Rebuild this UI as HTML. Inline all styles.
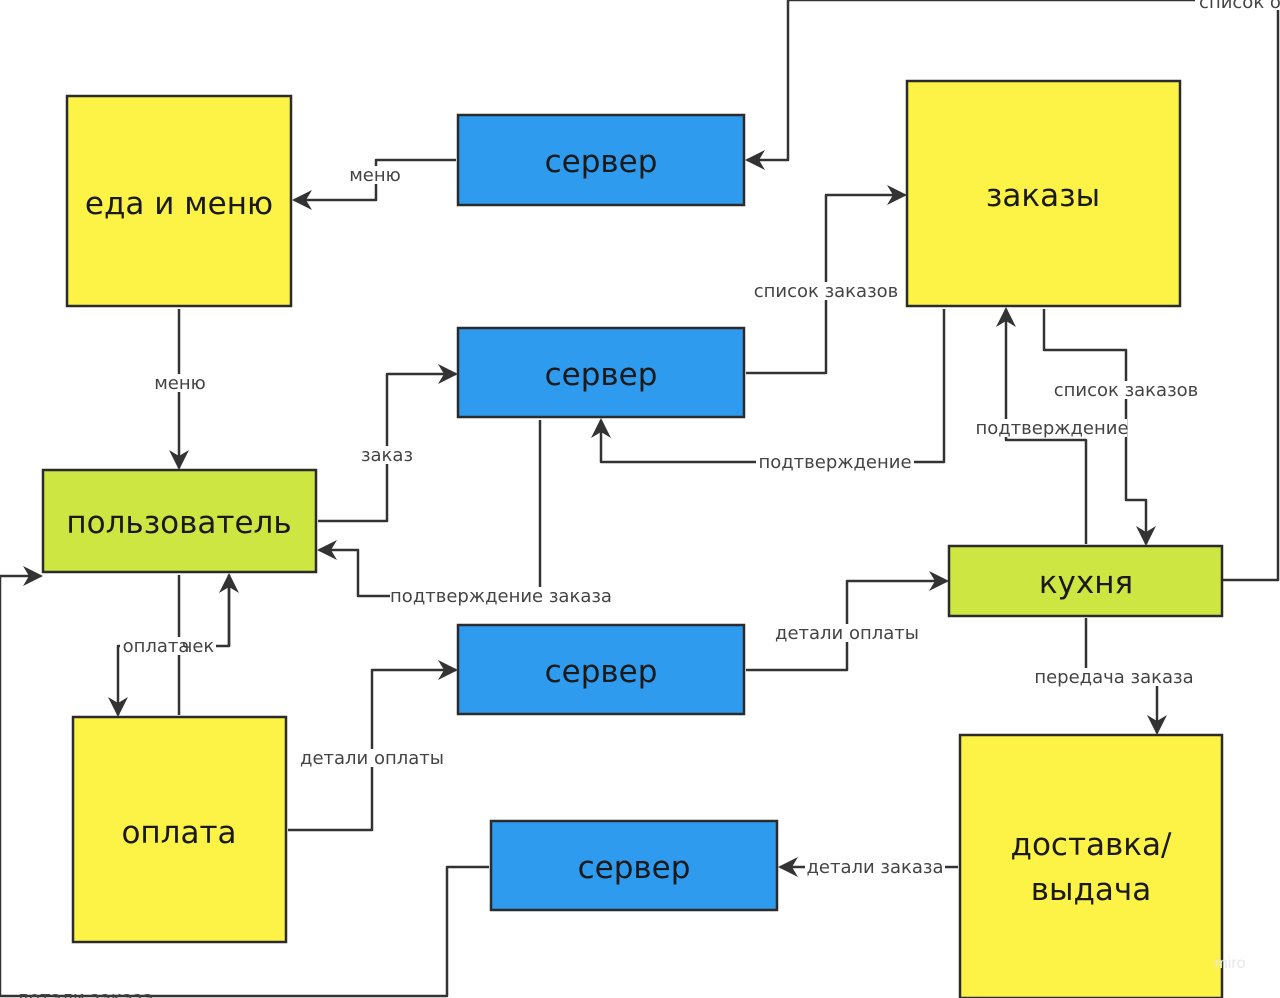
<!DOCTYPE html>
<html><head><meta charset="utf-8"><style>
body{margin:0;background:#fff;}
svg{display:block;font-family:"Liberation Sans","DejaVu Sans",sans-serif;}
.b{stroke:#2b2b2b;stroke-width:2.5;}
.c{fill:none;stroke:#333;stroke-width:2.5;stroke-linejoin:round;}
.t{font-family:"DejaVu Sans","Liberation Sans",sans-serif;fill:#1a1a1a;}
.l{font-size:18px;fill:#444;font-family:"DejaVu Sans","Liberation Sans",sans-serif;}
.bg{fill:#fff;}
</style></head><body>
<svg width="1280" height="998" viewBox="0 0 1280 998">
<defs>
<marker id="h" viewBox="0 0 10 10" markerWidth="20" markerHeight="20" refX="9" refY="5" orient="auto" markerUnits="userSpaceOnUse"><path d="M0,0 L10,5 L0,10 L3,5 Z" fill="#333"/></marker></defs>

<path class="c" d="M456,160 H376 V200 H294" marker-end="url(#h)"/>
<path class="c" d="M1278,0 H788 V160 H747" marker-end="url(#h)"/>
<path class="c" d="M1222,580 H1278 V0"/>
<path class="c" d="M179,309 V468" marker-end="url(#h)"/>
<path class="c" d="M318,521 H387 V374 H456" marker-end="url(#h)"/>
<path class="c" d="M540,420 V596 H358 V550 H319" marker-end="url(#h)"/>
<path class="c" d="M746,373 H826 V195 H905" marker-end="url(#h)"/>
<path class="c" d="M944,309 V462 H601 V420" marker-end="url(#h)"/>
<path class="c" d="M1044,309 V350 H1126 V500 H1146 V544" marker-end="url(#h)"/>
<path class="c" d="M1086,544 V440 H1006 V309" marker-end="url(#h)"/>
<path class="c" d="M179,575 V715"/>
<path class="c" d="M229,575 V646 H118 V715" marker-end="url(#h)"/>
<path class="c" d="M229,646 V575" marker-end="url(#h)"/>
<path class="c" d="M288,830 H372 V670 H456" marker-end="url(#h)"/>
<path class="c" d="M746,670 H847 V581 H947" marker-end="url(#h)"/>
<path class="c" d="M1086,618 V677 H1157 V733" marker-end="url(#h)"/>
<path class="c" d="M958,867 H780" marker-end="url(#h)"/>
<path class="c" d="M489,867 H447 V996 H0 V576 H41" marker-end="url(#h)"/>

<rect class="b" x="67" y="96" width="224" height="210" fill="#fdf346"/>
<rect class="b" x="458" y="115" width="286" height="90" fill="#2e9bef"/>
<rect class="b" x="907" y="81" width="273" height="225" fill="#fdf346"/>
<rect class="b" x="458" y="328" width="286" height="89" fill="#2e9bef"/>
<rect class="b" x="43" y="470" width="273" height="102" fill="#cde642"/>
<rect class="b" x="949" y="546" width="273" height="70" fill="#cde642"/>
<rect class="b" x="458" y="625" width="286" height="89" fill="#2e9bef"/>
<rect class="b" x="73" y="717" width="213" height="225" fill="#fdf346"/>
<rect class="b" x="491" y="821" width="286" height="89" fill="#2e9bef"/>
<rect class="b" x="960" y="735" width="262" height="263" fill="#fdf346"/>

<g class="t" font-size="31" text-anchor="middle">
<text x="179" y="214">еда и меню</text>
<text x="601" y="172">сервер</text>
<text x="1043" y="206">заказы</text>
<text x="601" y="385">сервер</text>
<text x="179" y="533">пользователь</text>
<text x="1086" y="593">кухня</text>
<text x="601" y="682">сервер</text>
<text x="179" y="843">оплата</text>
<text x="634" y="878">сервер</text>
<text x="1091" y="855">доставка/</text>
<text x="1091" y="900">выдача</text>
</g>

<g class="l" text-anchor="middle">
<rect class="bg" x="345" y="166" width="60" height="18"/><text x="375" y="181">меню</text>
<rect class="bg" x="1195" y="0" width="85" height="10"/><text x="1240" y="8">список о</text>
<rect class="bg" x="150" y="374" width="60" height="18"/><text x="180" y="389">меню</text>
<rect class="bg" x="358" y="446" width="58" height="18"/><text x="387" y="461">заказ</text>
<rect class="bg" x="752" y="282" width="148" height="18"/><text x="826" y="297">список заказов</text>
<rect class="bg" x="756" y="453" width="158" height="18"/><text x="835" y="468">подтверждение</text>
<rect class="bg" x="390" y="587" width="222" height="18"/><text x="501" y="602">подтверждение заказа</text>
<rect class="bg" x="1052" y="381" width="148" height="18"/><text x="1126" y="396">список заказов</text>
<rect class="bg" x="975" y="419" width="152" height="18"/><text x="1052" y="434">подтверждение</text>
<rect class="bg" x="120" y="637" width="96" height="18"/><text x="156" y="652">оплата</text><text x="198" y="652">чек</text>
<rect class="bg" x="298" y="749" width="146" height="18"/><text x="372" y="764">детали оплаты</text>
<rect class="bg" x="773" y="624" width="146" height="18"/><text x="847" y="639">детали оплаты</text>
<rect class="bg" x="1032" y="668" width="164" height="18"/><text x="1114" y="683">передача заказа</text>
<rect class="bg" x="805" y="858" width="140" height="18"/><text x="875" y="873">детали заказа</text>
<text x="85" y="1004">детали заказа</text>
</g>
<text x="1230" y="968" font-size="16" fill="#e8e8e8" text-anchor="middle">miro</text>
</svg>
</body></html>
